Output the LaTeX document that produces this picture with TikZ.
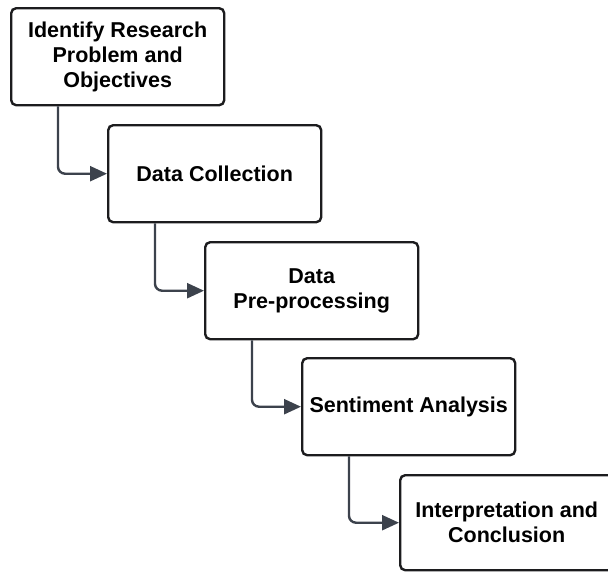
\documentclass[tikz,border=0pt]{standalone}
\usepackage{fontspec}
\setmainfont{Liberation Sans}
\usetikzlibrary{arrows.meta}
\definecolor{boxline}{HTML}{1C1C1E}
\definecolor{flowline}{HTML}{3C424C}
\tikzset{
  stepbox/.style={draw=boxline, line width=2.4pt, rounded corners=5pt,
    minimum width=213pt, minimum height=97pt, anchor=north west,
    align=center, inner sep=0pt,
    font=\fontsize{21.5}{25}\selectfont\bfseries},
  flow/.style={draw=flowline, line width=2.4pt, rounded corners=7pt,
    -{Triangle[length=17pt,width=15pt]}}
}
\begin{document}
\begin{tikzpicture}[x=1pt,y=-1pt]
  \useasboundingbox (0,0) rectangle (608,571);
  \node[stepbox] (s1) at (10,7)   {Identify Research\\Problem and\\Objectives};
  \node[stepbox] (s2) at (107,124) {Data Collection};
  \node[stepbox] (s3) at (204,241) {Data\\Pre-processing};
  \node[stepbox] (s4) at (301,357) {Sentiment Analysis};
  \node[stepbox, minimum height=95pt] (s5) at (399,474) {Interpretation and\\Conclusion};
  \draw[flow] ([xshift=48pt]s1.south west) |- (s2.west);
  \draw[flow] ([xshift=48pt]s2.south west) |- (s3.west);
  \draw[flow] ([xshift=48pt]s3.south west) |- (s4.west);
  \draw[flow] ([xshift=48pt]s4.south west) |- (s5.west);
\end{tikzpicture}
\end{document}
